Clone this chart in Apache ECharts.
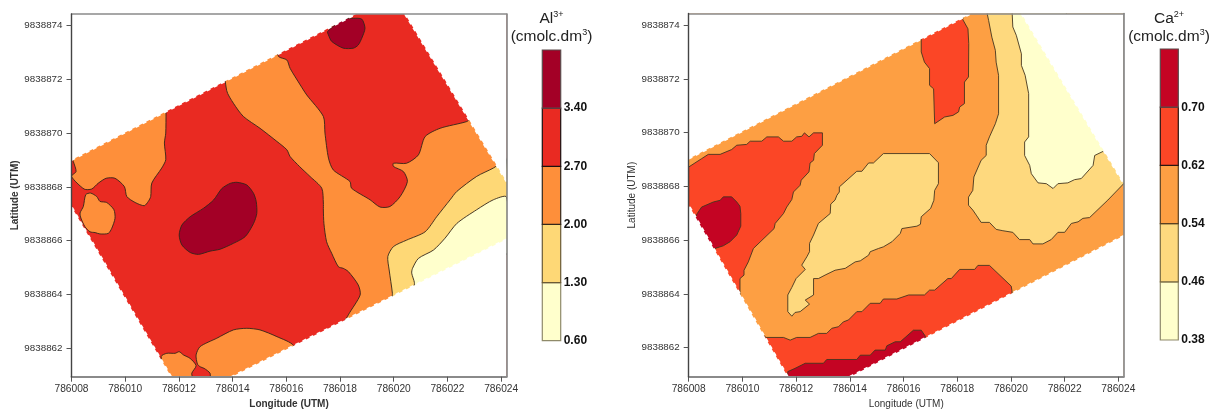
<!DOCTYPE html>
<html>
<head>
<meta charset="utf-8">
<script src="https://cdn.jsdelivr.net/npm/echarts@6/dist/echarts.min.js"></script>
<style>
  html, body { margin: 0; padding: 0; background: #fff; }
  #chart { width: 1218px; height: 412px; }
</style>
</head>
<body>
<div id="chart"></div>
<script>
// coordinates are metres (UTM), stored as offsets from these two bases
const xBase = 786000;
const yBase = 9838860;

const xTicks = [786008, 786010, 786012, 786014, 786016, 786018, 786020, 786022, 786024];
const yTicks = [9838862, 9838864, 9838866, 9838868, 9838870, 9838872, 9838874];

const alLevels = [0.6, 1.3, 2.0, 2.7, 3.4, 4.1];
const caLevels = [0.38, 0.46, 0.54, 0.62, 0.70, 0.78];
const alColors = ['#ffffcc', '#fed876', '#fe8f3a', '#e92a22', '#a30026'];
const caColors = ['#ffffcc', '#fed97e', '#fd9f43', '#fb4626', '#c40423'];

// Al3+ map, contour outlines
const alBand = [[13.78,12.5],[13.78,11.58],[14.03,11.11],[14.4,10.62],[15.02,10.18],[15.65,9.69],[16.02,9.38],[16.14,9.13],[16.5,8.75],[16.88,8.39],[17.32,7.95],[17.38,7.4],[17.38,7.14],[17.4,6.64],[17.5,5.96],[17.69,5.53],[17.94,5.03],[18.12,4.97],[18.31,4.85],[18.68,4.35],[18.75,3.98],[18.31,3.24],[18.0,2.6],[24.2,5.5],[24.2,9.0],[23.0,10.6],[22.72,10.43],[21.73,10.18],[21.17,9.87],[20.92,9.19],[20.48,8.88],[19.99,8.88],[19.99,8.76],[20.36,8.57],[20.51,8.2],[20.24,7.64],[19.86,7.27],[19.49,7.25],[19.12,7.52],[18.43,7.95],[18.37,8.2],[17.75,8.63],[17.57,9.07],[17.44,10.0],[17.38,10.62],[16.76,11.42],[16.52,11.79],[16.14,12.41],[16.02,12.72],[15.71,12.85],[15.6,13.3]];
const alUpperLeft = [[11.52,11.5],[11.52,10.78],[11.51,10.0],[11.46,9.63],[11.51,9.01],[11.36,8.7],[10.99,8.14],[10.95,7.64],[10.86,7.46],[10.71,7.3],[10.37,7.42],[10.06,7.64],[9.97,8.01],[9.62,8.32],[9.29,8.32],[9.0,8.14],[8.75,7.92],[8.47,7.92],[8.0,8.39],[8.17,8.57],[8.07,8.94],[8.04,9.03],[8.04,9.6]];
const alLeftBlob = [[8.53,7.71],[8.71,7.77],[8.94,7.64],[9.06,7.46],[9.31,7.42],[9.58,7.15],[9.62,6.83],[9.5,6.46],[9.37,6.27],[9.06,6.25],[8.88,6.3],[8.69,6.33],[8.5,6.52],[8.35,6.84],[8.32,7.03],[8.44,7.27]];
const alBottomA = [[11.34,1.69],[11.55,1.81],[11.86,1.81],[12.01,1.87],[12.17,1.75],[12.42,1.62],[12.64,1.35],[12.48,1.07],[12.5,0.8],[11.55,0.8]];
const alBottomB = [[12.69,1.41],[12.64,1.75],[12.79,2.06],[13.41,2.37],[14.03,2.68],[14.53,2.74],[15.02,2.68],[15.65,2.43],[16.27,2.1],[16.27,1.5],[14.03,0.6],[13.19,0.8],[13.16,1.07],[12.94,1.25],[12.79,1.31]];
const alCentre = [[13.29,7.51],[13.6,7.94],[13.91,8.13],[14.16,8.17],[14.53,8.07],[14.78,7.76],[14.88,7.45],[14.9,7.01],[14.78,6.64],[14.47,6.15],[14.03,5.9],[13.53,5.68],[13.16,5.61],[12.73,5.49],[12.42,5.56],[12.11,5.84],[12.01,6.21],[12.11,6.58],[12.42,6.89],[12.91,7.2]];
const alTop = [[17.54,13.78],[18.12,14.24],[18.5,14.27],[18.81,14.24],[18.93,13.9],[18.81,13.53],[18.68,13.28],[18.5,13.16],[18.12,13.16],[17.69,13.41],[17.57,13.65]];
const alLight = [[24.0,8.9],[23.71,8.7],[23.09,8.39],[22.35,7.83],[22.1,7.52],[21.6,6.89],[21.17,6.33],[20.48,6.02],[19.99,5.78],[19.78,5.41],[19.83,4.91],[19.95,4.04],[19.95,3.6],[24.2,5.5],[24.2,9.0]];
const alPale = [[24.2,7.62],[23.71,7.52],[23.09,7.15],[22.35,6.64],[21.91,6.09],[21.48,5.65],[20.92,5.34],[20.7,4.97],[20.67,4.79],[20.77,4.44],[20.77,4.0],[24.2,5.5]];
// outside of the sampled area, first two points are the diagonal edge
const alOutside = [
  [[8,9.0],[18.6,14.43],[8,14.43]],
  [[20.42,14.43],[24.2,8.2],[24.2,14.43]],
  [[24.2,6.05],[13.97,0.94],[24.2,0.94]],
  [[11.71,0.94],[8,7.26],[8,0.94]]
];

// Ca2+ map, contour outlines
const caLeft = [[8,8.72],[8.48,9.03],[8.73,9.19],[9.17,9.19],[9.6,9.37],[9.79,9.53],[10.16,9.56],[10.29,9.68],[10.72,9.68],[10.91,9.84],[11.34,9.84],[11.53,9.68],[11.84,9.68],[12.02,9.84],[12.21,9.86],[12.31,9.99],[12.48,9.84],[12.65,9.99],[12.98,9.99],[12.98,9.53],[12.68,9.22],[12.65,8.97],[12.52,8.87],[12.48,8.54],[12.19,8.23],[12.15,8.04],[11.9,7.79],[11.84,7.51],[11.65,7.23],[11.53,6.99],[11.22,6.62],[11.18,6.43],[10.41,5.69],[10.22,5.19],[10.06,4.88],[10.06,4.7],[9.91,4.57],[9.91,3.96],[8,3.96]];
const caLeftPeak = [[8.48,7.23],[8.92,7.42],[9.17,7.48],[9.29,7.61],[9.6,7.61],[9.79,7.42],[9.91,7.26],[9.94,6.99],[9.94,6.52],[9.79,6.19],[9.54,5.94],[9.29,5.79],[8.98,5.69],[8.6,5.6],[8.1,6.6],[8.32,6.99]];
const caLens = [[15.25,9.22],[16.97,9.22],[17.3,8.88],[17.3,8.1],[17.16,7.85],[17.13,7.48],[17.01,7.18],[16.66,6.87],[16.63,6.59],[16.5,6.52],[15.94,6.43],[15.88,6.25],[15.57,5.94],[15.25,5.75],[15.07,5.69],[14.76,5.57],[14.7,5.44],[14.39,5.23],[14.2,5.19],[13.83,4.95],[13.45,4.88],[13.08,4.7],[12.83,4.57],[12.65,4.57],[12.65,3.96],[12.34,3.77],[12.5,3.62],[12.15,3.34],[11.96,3.31],[11.84,3.17],[11.69,3.34],[11.69,3.96],[11.84,4.24],[12.0,4.57],[12.34,4.91],[12.21,5.07],[12.4,5.38],[12.5,5.57],[12.5,5.88],[12.65,6.19],[12.83,6.62],[13.27,6.99],[13.29,7.34],[13.45,7.49],[13.52,7.67],[13.61,7.79],[13.61,7.98],[14.26,8.56],[14.45,8.56],[14.7,8.87],[14.88,8.87]];
const caBottom = [[10.72,2.51],[10.88,2.38],[11.53,2.38],[11.78,2.28],[12.02,2.38],[12.52,2.38],[12.83,2.53],[13.14,2.53],[13.33,2.72],[13.58,2.78],[13.76,2.96],[13.95,3.03],[14.26,3.34],[14.45,3.34],[14.76,3.65],[15.13,3.65],[15.25,3.81],[15.75,3.81],[16.19,3.96],[16.78,3.96],[16.97,4.14],[17.16,4.14],[17.65,4.57],[17.78,4.57],[18.09,4.91],[18.65,4.91],[18.77,5.06],[19.2,5.06],[20.01,4.29],[20.04,4.12],[20.04,3.8],[14.5,0.5],[11.0,0.5],[10.4,2.3]];
const caBottomPeak = [[11.69,1.11],[11.96,1.23],[12.34,1.42],[13.02,1.42],[13.14,1.56],[14.26,1.56],[14.39,1.72],[14.76,1.72],[14.94,1.91],[15.32,1.91],[15.38,2.07],[15.69,2.22],[15.88,2.22],[16.37,2.65],[16.66,2.65],[16.81,2.43],[16.81,2.0],[14,0.5],[11.69,0.5]];
const caTop = [[18.21,14.4],[18.21,14.2],[18.4,13.86],[18.43,13.31],[18.42,12.07],[18.27,11.88],[18.27,11.08],[18.09,10.95],[18.05,10.77],[17.84,10.64],[17.53,10.58],[17.16,10.33],[17.12,11.63],[16.97,11.76],[16.97,12.38],[16.78,12.62],[16.66,13.0],[16.66,13.37],[16.66,13.8]];
const caLight = [[19.08,14.6],[19.17,14.17],[19.29,13.55],[19.42,13.06],[19.45,12.62],[19.54,12.13],[19.54,10.7],[19.42,10.33],[19.2,9.84],[19.08,9.53],[19.08,9.15],[18.89,8.97],[18.62,8.35],[18.58,7.85],[18.42,7.6],[18.42,7.3],[18.58,7.12],[18.71,6.93],[18.89,6.66],[19.2,6.66],[19.45,6.4],[19.7,6.35],[20.07,6.29],[20.32,6.02],[20.7,6.02],[20.82,5.86],[21.19,5.86],[21.5,6.02],[21.75,6.29],[22.0,6.29],[22.25,6.62],[22.5,6.68],[22.68,6.81],[22.93,6.84],[23.61,7.49],[24.2,8.1],[24.2,14.6]];
const caPale = [[20.04,14.6],[20.07,13.93],[20.2,13.62],[20.39,12.93],[20.39,12.5],[20.53,12.13],[20.66,11.45],[20.66,9.84],[20.51,9.65],[20.51,9.15],[20.7,8.78],[20.76,8.47],[21.01,8.13],[21.32,8.1],[21.57,7.92],[21.75,8.1],[22.12,8.13],[22.37,8.25],[22.62,8.29],[23.06,8.78],[23.12,9.15],[23.43,9.3],[23.49,9.28],[24,9.4],[22,14.6]];
const caOutside = [
  [[8,9.03],[18.52,14.43],[8,14.43]],
  [[20.39,14.43],[24.2,8.1],[24.2,14.43]],
  [[24.2,6.16],[14.01,0.92],[24.2,0.92]],
  [[11.69,0.92],[8,7.3],[8,0.92]]
];

const plotArea = [[8,0],[24.2,0],[24.2,15],[8,15]];

// painter's order, later ones cover earlier ones
const alLayers = [
  [plotArea, 3, false], [alBand, 2, true], [alUpperLeft, 2, true], [alLeftBlob, 2, true],
  [alBottomA, 2, true], [alBottomB, 2, true], [alCentre, 4, true], [alTop, 4, true],
  [alLight, 1, true], [alPale, 0, true]
];
const caLayers = [
  [plotArea, 2, false], [caLeft, 3, true], [caLeftPeak, 4, true], [caLens, 1, true],
  [caBottom, 3, true], [caBottomPeak, 4, true], [caTop, 3, true], [caLight, 1, true], [caPale, 0, true]
];

function mapSeries(axisIdx, layers, colors, outside, lineColor, smooth) {
  const toPx = (api, pts) => pts.map(p => api.coord([xBase + p[0], yBase + p[1]]));
  return [{
    type: 'custom',
    coordinateSystem: 'cartesian2d',
    xAxisIndex: axisIdx,
    yAxisIndex: axisIdx,
    clip: true,
    silent: true,
    z: 2,
    data: layers.map((l, i) => [xBase + 8, yBase + 2 + i]),
    renderItem: function (params, api) {
      const l = layers[params.dataIndex];
      return {
        type: 'polygon',
        shape: { points: toPx(api, l[0]), smooth: l[2] ? smooth : 0 },
        style: { fill: colors[l[1]], stroke: l[2] ? lineColor : null, lineWidth: 0.9 }
      };
    }
  }, {
    // white outside the sampled area, the dashed edge gives the stepped border
    type: 'custom',
    coordinateSystem: 'cartesian2d',
    xAxisIndex: axisIdx,
    yAxisIndex: axisIdx,
    clip: true,
    silent: true,
    z: 3,
    data: outside.map((o, i) => [xBase + 8, yBase + 2 + i]),
    renderItem: function (params, api) {
      const o = outside[params.dataIndex];
      return {
        type: 'group',
        children: [{
          type: 'polygon',
          shape: { points: toPx(api, o) },
          style: { fill: '#fff' }
        }, {
          type: 'polyline',
          shape: { points: toPx(api, o.slice(0, 2)) },
          style: { fill: null, stroke: '#fff', lineWidth: 2, lineDash: [4, 4] }
        }]
      };
    }
  }];
}

function barSeries(axisIdx, levels, colors, lineColor) {
  return {
    type: 'custom',
    coordinateSystem: 'cartesian2d',
    xAxisIndex: axisIdx,
    yAxisIndex: axisIdx,
    silent: true,
    data: colors.map((c, i) => [0, levels[i]]),
    renderItem: function (params, api) {
      const i = params.dataIndex;
      const a = api.coord([0, levels[i]]);
      const b = api.coord([1, levels[i + 1]]);
      return {
        type: 'rect',
        shape: { x: a[0], y: b[1], width: b[0] - a[0], height: a[1] - b[1] },
        style: { fill: colors[i], stroke: lineColor[i], lineWidth: 1.2 }
      };
    }
  };
}

function mapAxes(nameWeight, gridIdx, yMin) {
  const tickLine = { lineStyle: { color: '#555', width: 1 }, length: 5 };
  const xAxis = [{
    type: 'value', gridIndex: gridIdx, min: xBase + 8, max: xBase + 24.2, position: 'bottom', z: 10,
    name: 'Longitude (UTM)', nameLocation: 'middle', nameGap: 28,
    nameTextStyle: { fontFamily: 'Liberation Sans', fontSize: 10, fontWeight: nameWeight, color: '#333', verticalAlign: 'middle' },
    splitLine: { show: false },
    axisLine: { onZero: false, lineStyle: { color: '#8a8a8a', width: 2 } },
    axisTick: Object.assign({ customValues: xTicks }, tickLine),
    axisLabel: { customValues: xTicks, formatter: v => String(v), margin: 7, fontFamily: 'Liberation Sans', fontSize: 10.2, color: '#333', hideOverlap: false }
  }, {
    type: 'value', gridIndex: gridIdx, min: xBase + 8, max: xBase + 24.2, position: 'top', z: 10,
    splitLine: { show: false }, axisTick: { show: false }, axisLabel: { show: false },
    axisLine: { onZero: false, lineStyle: { color: '#8a8a8a', width: 1.5 } }
  }];
  const yAxis = [{
    type: 'value', gridIndex: gridIdx, min: yBase + yMin, max: yBase + 14.43, position: 'left', z: 11,
    name: 'Latitude (UTM)', nameLocation: 'middle', nameGap: 56, nameRotate: 90,
    nameTextStyle: { fontFamily: 'Liberation Sans', fontSize: 10, fontWeight: nameWeight, color: '#333', verticalAlign: 'middle' },
    splitLine: { show: false },
    axisLine: { onZero: false, lineStyle: { color: '#444', width: 1.4 } },
    axisTick: Object.assign({ customValues: yTicks }, tickLine),
    axisLabel: { customValues: yTicks, formatter: v => String(v), margin: 9, fontFamily: 'Liberation Sans', fontSize: 9.8, color: '#333' }
  }, {
    type: 'value', gridIndex: gridIdx, min: yBase + yMin, max: yBase + 14.43, position: 'right', z: 10,
    splitLine: { show: false }, axisTick: { show: false }, axisLabel: { show: false },
    axisLine: { onZero: false, lineStyle: { color: '#7a7a7a', width: 1.5 } }
  }];
  return { xAxis, yAxis };
}

function keyAxes(gridIdx, levels) {
  const labelVals = levels.slice(0, 5);
  return {
    xAxis: { type: 'value', gridIndex: gridIdx, min: 0, max: 1, show: false },
    yAxis: {
      type: 'value', gridIndex: gridIdx, min: levels[0], max: levels[5], position: 'right',
      splitLine: { show: false }, axisLine: { show: false }, axisTick: { show: false },
      axisLabel: { customValues: labelVals, formatter: v => v.toFixed(2), margin: 3, fontFamily: 'Liberation Sans', fontSize: 12, fontWeight: 'bold', color: '#111' }
    }
  };
}

const unitRich = {
  n: { fontFamily: 'Liberation Sans', fontSize: 15.5, fontWeight: 'normal', color: '#222', lineHeight: 18 },
  s: { fontFamily: 'Liberation Sans', fontSize: 9, fontWeight: 'normal', color: '#222', lineHeight: 18, verticalAlign: 'top' }
};

const chart = echarts.init(document.getElementById('chart'), null, { renderer: 'canvas' });

const mapA = mapAxes('bold', 0, 0.94);
const mapB = mapAxes('normal', 1, 0.92);
const keyA = keyAxes(2, alLevels);
const keyB = keyAxes(3, caLevels);

const option = {
  backgroundColor: '#fff',
  animation: false,
  title: [
    { text: '{n|Al}{s|3+}\n{n|(cmolc.dm}{s|3}{n|)}', left: 551.5, top: 10, textAlign: 'center', padding: 0, textStyle: { rich: unitRich } },
    { text: '{n|Ca}{s|2+}\n{n|(cmolc.dm}{s|3}{n|)}', left: 1169, top: 10, textAlign: 'center', padding: 0, textStyle: { rich: unitRich } }
  ],
  grid: [
    { left: 71.5, top: 14, width: 435, height: 362.7, outerBoundsMode: 'none' },
    { left: 688.7, top: 13.5, width: 435, height: 363.2, outerBoundsMode: 'none' },
    { left: 542.3, top: 50, width: 18.4, height: 290.7, outerBoundsMode: 'none' },
    { left: 1160.3, top: 49, width: 18, height: 291, outerBoundsMode: 'none' }
  ],
  xAxis: [mapA.xAxis[0], mapB.xAxis[0], keyA.xAxis, keyB.xAxis, mapA.xAxis[1], mapB.xAxis[1]],
  yAxis: [mapA.yAxis[0], mapB.yAxis[0], keyA.yAxis, keyB.yAxis, mapA.yAxis[1], mapB.yAxis[1]],
  series: [].concat(
    mapSeries(0, alLayers, alColors, alOutside, '#33261a', 0.25),
    mapSeries(1, caLayers, caColors, caOutside, '#45351f', 0),
    barSeries(2, alLevels, alColors, ['#8f8a6a', '#6b5a35', '#33261a', '#1a1010', '#5a4a4a']),
    barSeries(3, caLevels, caColors, ['#8f8a6a', '#7a6a40', '#5a4020', '#2a1510', '#5a4a4a'])
  )
};

chart.setOption(option);
</script>
</body>
</html>
